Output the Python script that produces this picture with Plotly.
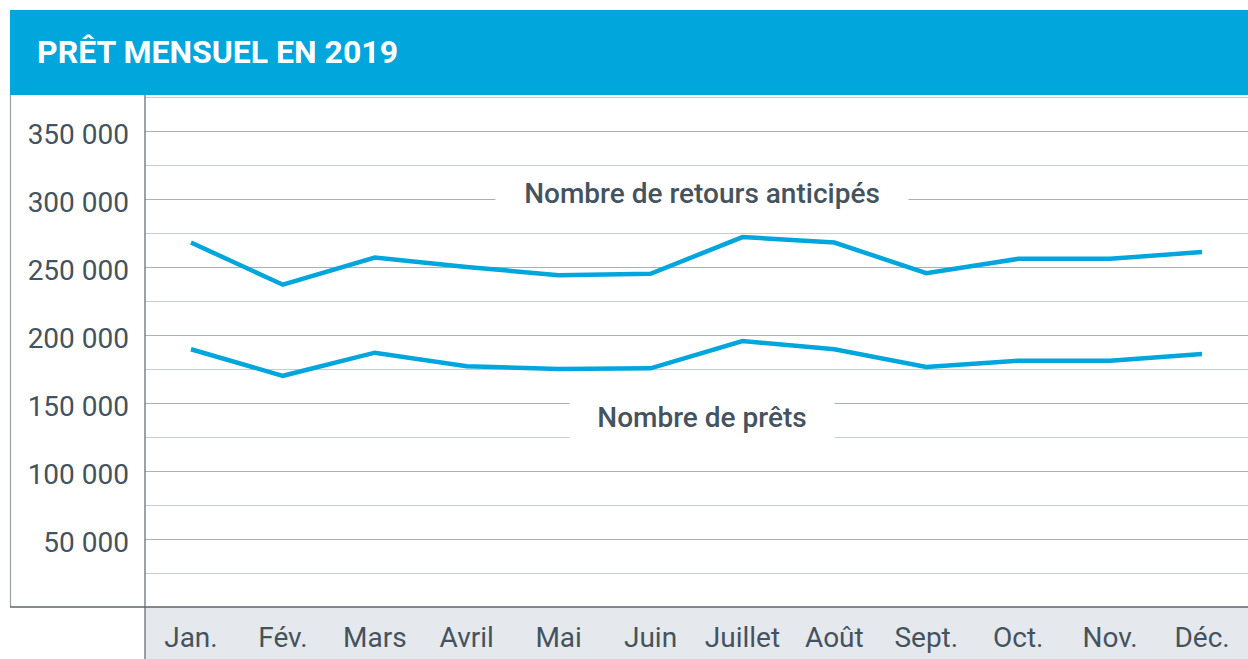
import plotly.graph_objects as go

months = ["Jan.", "Fév.", "Mars", "Avril", "Mai", "Juin", "Juillet", "Août", "Sept.", "Oct.", "Nov.", "Déc."]
retours_anticipes = [268000, 237000, 257000, 250000, 244000, 245000, 272000, 268000, 245500, 256000, 256000, 261000]
prets = [189500, 170000, 187000, 177000, 175000, 175500, 195500, 189500, 176500, 181000, 181000, 186000]
y_ticks = [50000, 100000, 150000, 200000, 250000, 300000, 350000]
y_tick_labels = ["50 000", "100 000", "150 000", "200 000", "250 000", "300 000", "350 000"]

BLUE = "#00a6dc"
TEXT = "#44535d"
FONT = "Roboto"

W, H = 1248, 659
L, R, T, B = 145, 0, 95, 52
pw, ph = W - L - R, H - T - B

def px_x(x):
    return (x - L) / pw

def px_y(y):
    return (H - B - y) / ph

fig = go.Figure()
for name, vals in [("Nombre de retours anticipés", retours_anticipes), ("Nombre de prêts", prets)]:
    fig.add_trace(go.Scatter(x=months, y=vals, mode="lines", name=name,
                             line=dict(color=BLUE, width=4.5), hoverinfo="skip"))

shapes = [
    dict(type="rect", xref="paper", yref="paper", x0=0, x1=1, y0=px_y(H), y1=0,
         fillcolor="#e5e8ec", line_width=0, layer="below"),
    dict(type="rect", xref="paper", yref="paper", x0=px_x(10), x1=1, y0=1, y1=px_y(10),
         fillcolor=BLUE, line_width=0, layer="above"),
    dict(type="line", xref="paper", yref="paper", x0=px_x(10.5), x1=px_x(10.5), y0=0, y1=1,
         line=dict(color="#9aa2a9", width=1.2)),
    dict(type="line", xref="paper", yref="paper", x0=px_x(10), x1=1, y0=0, y1=0,
         line=dict(color="#5b656d", width=1.5)),
    dict(type="line", xref="paper", yref="paper", x0=0, x1=0, y0=px_y(H), y1=1,
         line=dict(color="#5b656d", width=1.2)),
]

annotations = [
    dict(text="<b>PRÊT MENSUEL EN 2019</b>", xref="paper", yref="paper",
         x=px_x(35), y=px_y(52), xanchor="left", yanchor="middle", showarrow=False,
         font=dict(family=FONT, size=32, color="white")),
    dict(text="Nombre de retours anticipés", xref="paper", yref="y",
         x=px_x(702), y=(H - B - 193) / 68 * 50000, showarrow=False,
         width=410, height=50, bgcolor="white",
         font=dict(family=FONT, size=28, color=TEXT, weight=500)),
    dict(text="Nombre de prêts", xref="paper", yref="y",
         x=px_x(702), y=(H - B - 417) / 68 * 50000, showarrow=False,
         width=262, height=44, bgcolor="white",
         font=dict(family=FONT, size=28, color=TEXT, weight=500)),
]

fig.update_layout(
    width=W, height=H,
    margin=dict(l=L, r=R, t=T, b=B, pad=0),
    paper_bgcolor="white", plot_bgcolor="white",
    showlegend=False,
    shapes=shapes, annotations=annotations,
    xaxis=dict(type="category", range=[-0.5, 11.5], showgrid=False, zeroline=False,
               showline=False, ticks="", ticklabelstandoff=11,
               tickfont=dict(family=FONT, size=28, color=TEXT), fixedrange=True),
    yaxis=dict(range=[0, (H - B - T) / 68 * 50000], tickvals=y_ticks, ticktext=y_tick_labels,
               showgrid=True, gridcolor="#a9b0b7", gridwidth=1.2, zeroline=False,
               showline=False, ticks="", ticklabelstandoff=15, ticklabelshift=3,
               tickfont=dict(family=FONT, size=28, color=TEXT),
               minor=dict(tick0=0, dtick=25000, showgrid=True, gridcolor="#c7ccd1", gridwidth=1.2),
               fixedrange=True),
)

fig.write_html("out.html", config={"displayModeBar": False},
               post_script="document.body.style.margin='0';document.body.style.overflow='hidden';")
